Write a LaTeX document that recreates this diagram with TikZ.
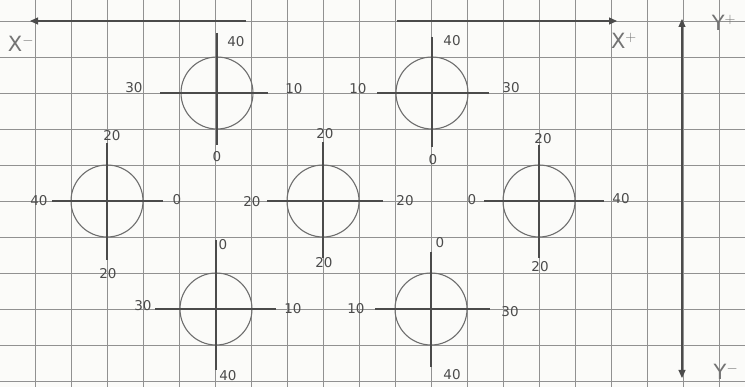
\documentclass[tikz,border=0pt]{standalone}
\usepackage{fontspec}
\setmainfont{DejaVu Sans}
\usetikzlibrary{arrows.meta}
\definecolor{gridc}{RGB}{145,145,145}
\definecolor{pencil}{RGB}{75,75,75}
\definecolor{circc}{RGB}{110,110,110}
\definecolor{paper}{RGB}{251,251,249}
\definecolor{lettc}{RGB}{115,115,115}
\begin{document}
\begin{tikzpicture}[x=1pt,y=-1pt,
  gridline/.style={draw=gridc,line width=0.9pt},
  crossline/.style={draw=pencil,line width=1.1pt},
  wheel/.style={circle,draw=circc,line width=1.1pt,minimum size=72pt,inner sep=0pt},
  num/.style={text=pencil,font=\fontsize{13.5}{13.5}\selectfont,inner sep=0pt},
  axlabel/.style={text=lettc,font=\fontsize{21}{21}\selectfont,inner sep=0pt},
  axisline/.style={draw=pencil,line width=1.1pt},
  tip/.style={-{Triangle[length=8pt,width=7pt]}},
  tips/.style={{Triangle[length=8pt,width=7pt]}-{Triangle[length=8pt,width=7pt]}}
]
% paper and bounding box
\fill[paper] (0,0) rectangle (745,387);
\useasboundingbox (0,0) rectangle (745,387);
% grid
\foreach \x in {35,71,...,719} \draw[gridline] (\x,0) -- (\x,387);
\foreach \y in {21,57,...,381} \draw[gridline] (0,\y) -- (745,\y);

% axes
\coordinate (xmtip) at (30,21);
\coordinate (xmstart) at (246,21);
\coordinate (xpstart) at (397,21);
\coordinate (xptip) at (617,21);
\coordinate (yptip) at (682,19);
\coordinate (ymtip) at (682,378);
\draw[axisline,tip] (xmstart) -- (xmtip);
\draw[axisline,tip] (xpstart) -- (xptip);
\draw[axisline,tips] (ymtip) -- (yptip);
\node[axlabel] (xm) at (21,44) {X$^{-}$};
\node[axlabel] (xp) at (624,41) {X$^{+}$};
\node[axlabel] (yp) at (724,23) {Y$^{+}$};
\node[axlabel] (ym) at (726,372) {Y$^{-}$};

% ---- top-left wheel
\node[wheel] (tl) at (217,93) {};
\coordinate (tlN) at (217,33); \coordinate (tlS) at (217,145);
\coordinate (tlW) at (160,93); \coordinate (tlE) at (268,93);
\draw[crossline] (tlN) -- (tlS); \draw[crossline] (tlW) -- (tlE);
\node[num] (tlt) at (236,42) {40};
\node[num] (tll) at (134,88) {30};
\node[num] (tlr) at (294,89) {10};
\node[num] (tlb) at (217,157) {0};

% ---- top-right wheel
\node[wheel] (tr) at (432,93) {};
\coordinate (trN) at (432,37); \coordinate (trS) at (432,147);
\coordinate (trW) at (377,93); \coordinate (trE) at (489,93);
\draw[crossline] (trN) -- (trS); \draw[crossline] (trW) -- (trE);
\node[num] (trt) at (452,41) {40};
\node[num] (trl) at (358,89) {10};
\node[num] (trr) at (511,88) {30};
\node[num] (trb) at (433,160) {0};

% ---- middle-left wheel
\node[wheel] (ml) at (107,201) {};
\coordinate (mlN) at (107,143); \coordinate (mlS) at (107,260);
\coordinate (mlW) at (52,201); \coordinate (mlE) at (163,201);
\draw[crossline] (mlN) -- (mlS); \draw[crossline] (mlW) -- (mlE);
\node[num] (mlt) at (112,136) {20};
\node[num] (mll) at (39,201) {40};
\node[num] (mlr) at (177,200) {0};
\node[num] (mlb) at (108,274) {20};

% ---- middle wheel
\node[wheel] (mm) at (323,201) {};
\coordinate (mmN) at (323,142); \coordinate (mmS) at (323,258);
\coordinate (mmW) at (267,201); \coordinate (mmE) at (383,201);
\draw[crossline] (mmN) -- (mmS); \draw[crossline] (mmW) -- (mmE);
\node[num] (mmt) at (325,134) {20};
\node[num] (mml) at (252,202) {20};
\node[num] (mmr) at (405,201) {20};
\node[num] (mmb) at (324,263) {20};

% ---- middle-right wheel
\node[wheel] (mr) at (539,201) {};
\coordinate (mrN) at (539,145); \coordinate (mrS) at (539,258);
\coordinate (mrW) at (484,201); \coordinate (mrE) at (604,201);
\draw[crossline] (mrN) -- (mrS); \draw[crossline] (mrW) -- (mrE);
\node[num] (mrt) at (543,139) {20};
\node[num] (mrl) at (472,200) {0};
\node[num] (mrr) at (621,199) {40};
\node[num] (mrb) at (540,267) {20};

% ---- bottom-left wheel
\node[wheel] (bl) at (216,309) {};
\coordinate (blN) at (216,240); \coordinate (blS) at (216,370);
\coordinate (blW) at (155,309); \coordinate (blE) at (276,309);
\draw[crossline] (blN) -- (blS); \draw[crossline] (blW) -- (blE);
\node[num] (blt) at (223,245) {0};
\node[num] (bll) at (143,306) {30};
\node[num] (blr) at (293,309) {10};
\node[num] (blb) at (228,376) {40};

% ---- bottom-right wheel
\node[wheel] (br) at (431,309) {};
\coordinate (brN) at (431,252); \coordinate (brS) at (431,367);
\coordinate (brW) at (375,309); \coordinate (brE) at (490,309);
\draw[crossline] (brN) -- (brS); \draw[crossline] (brW) -- (brE);
\node[num] (brt) at (440,243) {0};
\node[num] (brl) at (356,309) {10};
\node[num] (brr) at (510,312) {30};
\node[num] (brb) at (452,375) {40};
\end{tikzpicture}
\end{document}
